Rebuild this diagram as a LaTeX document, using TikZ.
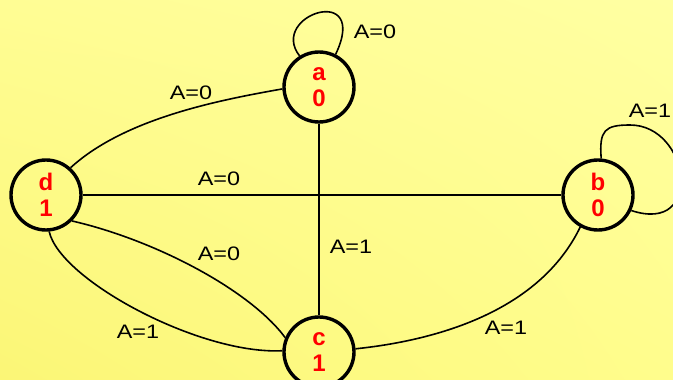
\documentclass[tikz,border=0pt]{standalone}
\usepackage{fontspec}
\setmainfont{Liberation Sans}
\newfontfamily\edgelabelfont[FakeStretch=1.2]{Liberation Sans}
\usetikzlibrary{shadings}
\definecolor{bglowleft}{HTML}{FBF676}
\definecolor{bgupleft}{HTML}{FFFD94}
\definecolor{bgupright}{HTML}{FFFFA2}
\definecolor{bglowright}{HTML}{FFFD8C}

\begin{document}
\begin{tikzpicture}[x=1pt, y=-1pt,
    statestyle/.style={circle, draw=black, line width=3.4pt, minimum size=70pt,
      inner sep=0pt, align=center, text=red,
      font=\fontsize{24}{26}\selectfont\bfseries},
    edgestyle/.style={black, line width=1.6pt},
    labelstyle/.style={font=\edgelabelfont\fontsize{19.5}{20}\selectfont, inner sep=0pt}]
  \useasboundingbox (0,0) rectangle (673,380);
  \shade[lower left=bglowleft, upper left=bgupleft, upper right=bgupright,
    lower right=bglowright] (0,0) rectangle (673,380);
  \node[statestyle] (a) at (319,87) {a\\0};
  \node[statestyle] (b) at (598,195) {b\\0};
  \node[statestyle] (c) at (319,352) {c\\1};
  \node[statestyle] (d) at (46,195) {d\\1};
  \draw[edgestyle] (a.122) .. controls (268,15) and (370,-18) .. (a.63);
  \draw[edgestyle] (a.183) .. controls (220,100) and (125,118) .. (d.48);
  \draw[edgestyle] (d) -- (b);
  \draw[edgestyle] (a) -- (c);
  \draw[edgestyle] (d.-45) .. controls (155,240) and (250,290) .. (c.157);
  \draw[edgestyle] (d.-85) .. controls (60,280) and (200,355) .. (c.178);
  \draw[edgestyle] (c.5) .. controls (440,340) and (540,310) .. (b.-119);
  \draw[edgestyle] (b.85) .. controls (599,130) and (605,125) .. (630,125)
    .. controls (690,125) and (705,235) .. (b.-25);
  \node[labelstyle] (lblaa) at (375,32) {A=0};
  \node[labelstyle] (lblad) at (191,93) {A=0};
  \node[labelstyle] (lbldb) at (219,179) {A=0};
  \node[labelstyle] (lblac) at (351,247) {A=1};
  \node[labelstyle] (lbldc) at (219,254) {A=0};
  \node[labelstyle] (lbldcb) at (138,332) {A=1};
  \node[labelstyle] (lblcb) at (506,328) {A=1};
  \node[labelstyle] (lblbb) at (650,111) {A=1};
\end{tikzpicture}
\end{document}
